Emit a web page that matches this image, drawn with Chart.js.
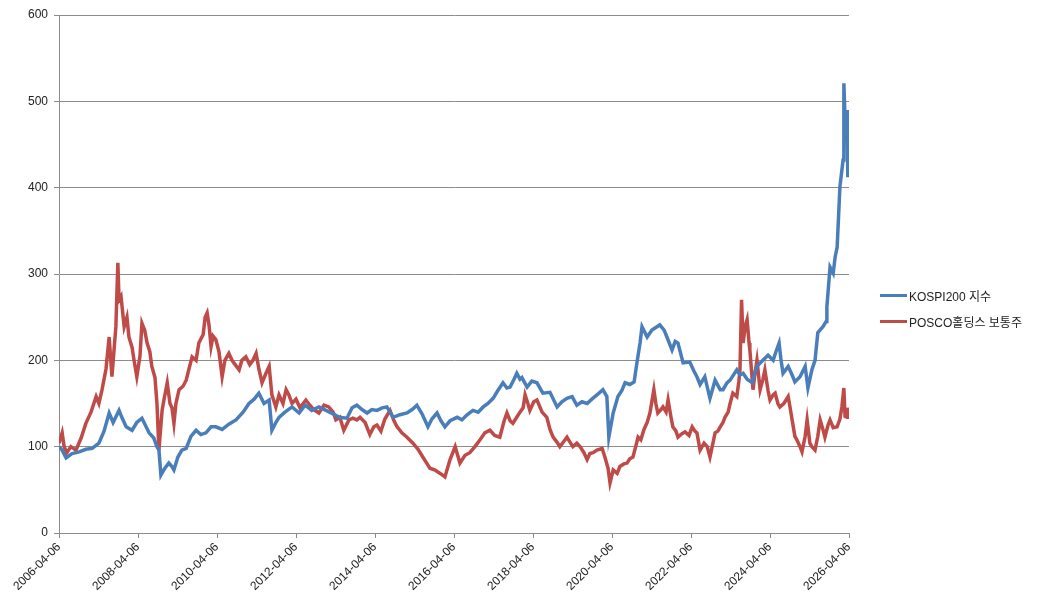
<!DOCTYPE html>
<html><head><meta charset="utf-8">
<script src="https://cdn.jsdelivr.net/npm/chart.js@4/dist/chart.umd.min.js"></script>
<style>
html,body{margin:0;padding:0;background:#fff;}
#wrap{position:relative;width:1044px;height:608px;}
#legend{position:absolute;left:880px;top:282px;font-family:"Liberation Sans","Noto Sans CJK KR",sans-serif;font-size:12px;color:#222;}
.item{display:flex;align-items:center;height:26px;}
.swatch{width:27px;height:3px;margin-right:2px;}
</style></head>
<body><div id="wrap"><canvas id="c" width="1044" height="608"></canvas>
<div id="legend"></div></div>
<script>
const seriesNames = ["KOSPI200 지수", "POSCO홀딩스 보통주"];
const tickLabels = ["2006-04-06","2008-04-06","2010-04-06","2012-04-06","2014-04-06","2016-04-06","2018-04-06","2020-04-06","2022-04-06","2024-04-06","2026-04-06"];
const yTicks = [0,100,200,300,400,500,600];

const kospiT = [2006.26,2006.34,2006.44,2006.59,2006.77,2006.94,2007.10,2007.27,2007.40,2007.53,2007.63,2007.78,2007.85,2007.96,2008.11,2008.23,2008.36,2008.54,2008.66,2008.74,2008.79,2008.84,2008.94,2009.04,2009.12,2009.17,2009.27,2009.37,2009.48,2009.60,2009.73,2009.85,2009.98,2010.11,2010.23,2010.39,2010.56,2010.74,2010.92,2011.07,2011.20,2011.32,2011.45,2011.58,2011.65,2011.75,2011.83,2011.98,2012.16,2012.34,2012.49,2012.66,2012.84,2013.02,2013.20,2013.35,2013.55,2013.68,2013.80,2013.93,2014.06,2014.18,2014.31,2014.44,2014.56,2014.72,2014.89,2015.07,2015.20,2015.32,2015.45,2015.60,2015.70,2015.83,2015.93,2016.03,2016.16,2016.34,2016.46,2016.59,2016.74,2016.87,2017.00,2017.12,2017.25,2017.37,2017.50,2017.60,2017.68,2017.78,2017.85,2017.93,2017.98,2018.11,2018.23,2018.36,2018.51,2018.69,2018.87,2018.99,2019.12,2019.25,2019.37,2019.50,2019.63,2019.75,2019.88,2020.03,2020.13,2020.18,2020.29,2020.41,2020.51,2020.59,2020.71,2020.82,2020.89,2020.97,2021.02,2021.15,2021.27,2021.37,2021.47,2021.58,2021.65,2021.78,2021.86,2021.93,2022.06,2022.23,2022.33,2022.41,2022.49,2022.61,2022.74,2022.87,2023.00,2023.07,2023.17,2023.25,2023.32,2023.42,2023.50,2023.58,2023.68,2023.81,2023.93,2024.08,2024.21,2024.34,2024.41,2024.49,2024.54,2024.59,2024.72,2024.82,2024.89,2025.02,2025.15,2025.22,2025.32,2025.40,2025.47,2025.60,2025.68,2025.70,2025.78,2025.86,2025.91,2025.96,2026.03,2026.11,2026.13,2026.16,2026.18,2026.21,2026.23,2026.24];
const kospiV = [100,96,87,92,94,97,98,104,118,139,128,142,134,123,119,128,133,116,110,100,96,67,75,81,77,73,88,96,98,112,119,114,116,123,123,120,126,131,140,150,155,162,150,154,119,128,134,140,146,139,148,142,146,142,138,134,133,145,148,143,139,143,142,145,146,134,137,139,143,148,138,123,132,139,130,123,130,134,131,137,142,140,146,150,156,165,174,168,169,178,185,178,180,169,176,174,162,163,146,152,156,158,148,152,150,155,160,166,158,111,139,158,165,174,172,175,197,220,239,227,235,238,241,235,227,212,222,220,197,198,188,181,172,181,156,177,166,166,174,177,182,189,183,185,178,174,193,200,206,200,210,220,200,185,193,183,175,181,193,168,189,200,232,239,245,262,308,301,320,331,401,432,521,480,470,490,412,440];

const poscoT = [2006.26,2006.34,2006.39,2006.46,2006.56,2006.69,2006.82,2006.94,2007.07,2007.20,2007.27,2007.35,2007.45,2007.53,2007.60,2007.65,2007.70,2007.75,2007.78,2007.83,2007.91,2007.98,2008.03,2008.11,2008.16,2008.23,2008.31,2008.36,2008.43,2008.49,2008.56,2008.61,2008.69,2008.74,2008.79,2008.87,2008.92,2009.00,2009.07,2009.12,2009.17,2009.22,2009.30,2009.40,2009.48,2009.55,2009.63,2009.73,2009.80,2009.91,2009.96,2010.01,2010.06,2010.11,2010.16,2010.23,2010.31,2010.39,2010.46,2010.56,2010.64,2010.72,2010.82,2010.89,2010.99,2011.09,2011.17,2011.25,2011.32,2011.40,2011.50,2011.58,2011.65,2011.75,2011.83,2011.93,2012.01,2012.08,2012.16,2012.26,2012.36,2012.51,2012.61,2012.71,2012.84,2012.97,2013.09,2013.20,2013.27,2013.37,2013.47,2013.60,2013.70,2013.80,2013.88,2014.01,2014.13,2014.23,2014.31,2014.41,2014.51,2014.64,2014.74,2014.82,2014.94,2015.07,2015.22,2015.35,2015.47,2015.58,2015.65,2015.78,2015.91,2016.03,2016.16,2016.29,2016.41,2016.54,2016.66,2016.79,2016.92,2017.04,2017.17,2017.29,2017.42,2017.53,2017.60,2017.68,2017.75,2017.86,2017.93,2018.01,2018.06,2018.13,2018.18,2018.28,2018.36,2018.49,2018.61,2018.69,2018.77,2018.87,2018.94,2019.04,2019.12,2019.20,2019.27,2019.37,2019.45,2019.55,2019.63,2019.70,2019.78,2019.88,2020.01,2020.08,2020.16,2020.21,2020.29,2020.39,2020.46,2020.56,2020.64,2020.71,2020.79,2020.86,2020.92,2020.99,2021.07,2021.15,2021.22,2021.32,2021.37,2021.42,2021.50,2021.55,2021.63,2021.68,2021.75,2021.80,2021.88,2021.93,2022.03,2022.11,2022.21,2022.29,2022.36,2022.41,2022.49,2022.59,2022.67,2022.74,2022.82,2022.87,2022.94,2023.00,2023.07,2023.12,2023.20,2023.25,2023.32,2023.42,2023.47,2023.50,2023.54,2023.58,2023.63,2023.68,2023.73,2023.75,2023.83,2023.88,2023.93,2024.01,2024.08,2024.13,2024.21,2024.26,2024.34,2024.39,2024.46,2024.51,2024.61,2024.72,2024.77,2024.82,2024.89,2024.94,2025.02,2025.07,2025.15,2025.20,2025.27,2025.32,2025.40,2025.47,2025.53,2025.60,2025.65,2025.73,2025.78,2025.86,2025.96,2026.03,2026.08,2026.13,2026.16,2026.21,2026.23,2026.24];
const poscoV = [104,116,100,93,100,96,110,127,140,158,150,166,190,227,181,210,239,313,270,274,239,250,227,215,200,181,205,243,235,220,210,193,180,150,96,142,155,174,150,145,127,150,166,170,177,190,204,200,220,230,250,255,240,216,228,224,210,181,200,208,200,195,189,200,204,195,200,208,190,174,185,193,160,146,160,150,166,160,150,155,145,154,148,143,139,148,146,140,131,134,119,131,133,131,134,128,114,123,125,118,132,142,130,123,116,111,104,97,88,80,75,73,69,65,85,100,81,90,93,100,108,116,119,113,111,130,139,130,127,135,140,145,160,150,142,152,154,140,134,120,111,105,100,106,111,105,100,104,100,93,85,92,93,96,98,88,75,58,73,69,77,80,81,86,88,100,111,108,120,128,139,166,150,139,143,146,140,154,135,123,118,111,115,117,113,123,118,116,96,104,100,88,105,116,118,123,128,134,140,150,162,158,175,189,270,220,239,247,220,212,166,185,200,166,178,189,165,154,160,162,150,146,150,158,145,131,112,108,100,94,112,131,104,100,96,112,131,120,111,125,131,122,123,132,146,168,135,134,145,142];

const xMin = 2006.26, xStep = 2;
function pts(t, v){ return t.map((x,i)=>({x:x, y:v[i]})); }

new Chart(document.getElementById('c'), {
  type: 'line',
  data: { datasets: [
    { label: seriesNames[0], data: pts(kospiT,kospiV), borderColor:'#4A7EBB', borderWidth:3.5, pointRadius:0, tension:0, fill:false },
    { label: seriesNames[1], data: pts(poscoT,poscoV), borderColor:'#BE4B48', borderWidth:3.5, pointRadius:0, tension:0, fill:false }
  ]},
  options: {
    responsive:false, animation:false, devicePixelRatio:1,
    layout:{ padding:{ top:15, right:195, left:0, bottom:0 } },
    plugins:{ legend:{display:false}, tooltip:{enabled:false} },
    scales:{
      x:{ type:'linear', min:xMin, max:xMin + xStep*(tickLabels.length-1),
        afterBuildTicks:(s)=>{ s.ticks = tickLabels.map((l,i)=>({value:xMin+xStep*i})); },
        afterFit:(s)=>{ s.height = 75; },
        ticks:{ autoSkip:false, maxRotation:45, minRotation:45, padding:2, color:'#222',
          font:{family:'"Liberation Sans", sans-serif', size:12},
          callback:(v)=>tickLabels[Math.round((v-xMin)/xStep)] },
        grid:{ drawOnChartArea:false, color:'#8c8c8c', tickLength:5, tickColor:'#8c8c8c' },
        border:{ color:'#8c8c8c' } },
      y:{ min:0, max:600,
        afterBuildTicks:(s)=>{ s.ticks = yTicks.map(v=>({value:v})); },
        afterFit:(s)=>{ s.width = 59; },
        ticks:{ color:'#222', padding:6, font:{family:'"Liberation Sans", sans-serif', size:12} },
        grid:{ color:'#8c8c8c', tickLength:5, tickColor:'#8c8c8c' },
        border:{ color:'#8c8c8c' } }
    }
  }
});

const colors = ['#4A7EBB','#BE4B48'];
const lg = document.getElementById('legend');
seriesNames.forEach((n,i)=>{
  const d = document.createElement('div'); d.className='item';
  const s = document.createElement('div'); s.className='swatch'; s.style.background=colors[i];
  const t = document.createElement('span'); t.textContent = n;
  d.appendChild(s); d.appendChild(t); lg.appendChild(d);
});
</script></body></html>
